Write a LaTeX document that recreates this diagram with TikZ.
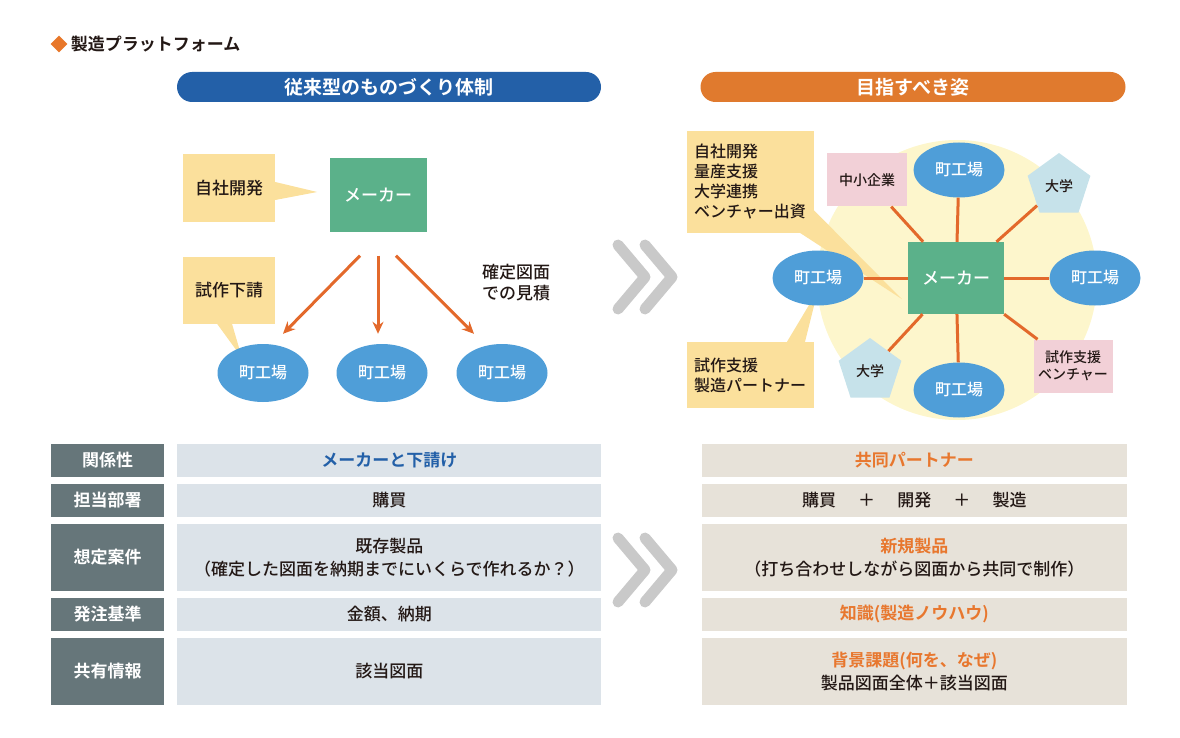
\documentclass[tikz,border=0pt]{standalone}
\usepackage{fontspec}
\setmainfont{Noto Sans CJK JP}[UprightFont=* Medium,BoldFont=* Bold]
\usetikzlibrary{shapes.geometric,arrows.meta,positioning}
\pgfdeclarelayer{back}
\pgfsetlayers{back,main}

\definecolor{ink}{HTML}{231815}
\definecolor{markO}{HTML}{E8772A}
\definecolor{hdB}{HTML}{2360A8}
\definecolor{hdO}{HTML}{E07A2E}
\definecolor{txtO}{HTML}{E8772E}
\definecolor{memoY}{HTML}{FBE09C}
\definecolor{makerG}{HTML}{5BB18A}
\definecolor{shopB}{HTML}{4F9ED8}
\definecolor{linkO}{HTML}{E3692B}
\definecolor{pinkP}{HTML}{F2D0D7}
\definecolor{univB}{HTML}{C6E2EA}
\definecolor{glowY}{HTML}{FDF6CC}
\definecolor{chevG}{HTML}{C9C9C9}
\definecolor{labelG}{HTML}{66767A}
\definecolor{oldC}{HTML}{DCE3E9}
\definecolor{newC}{HTML}{E7E2D9}

\def\sz#1#2{\fontsize{#1pt}{#2pt}\selectfont}
\def\gap{6.5pt}

\begin{document}
\begin{tikzpicture}[x=1pt,y=-1pt,every node/.style={text=ink,inner sep=0pt}]
  \tikzset{heading/.style={rounded corners=15pt,minimum width=424pt,minimum height=30pt,text=white,font=\sz{19}{23}\bfseries},
    memo/.style={fill=memoY,minimum width=92pt,minimum height=67pt,font=\sz{17}{21}},
    makerbox/.style={fill=makerG,minimum width=97pt,minimum height=73pt,text=white,font=\sz{17}{21}},
    shop/.style={ellipse,fill=shopB,minimum width=91pt,minimum height=58pt,text=white,font=\sz{16}{20}},
    partnerbox/.style={fill=pinkP,minimum width=80pt,minimum height=53pt,font=\sz{14}{17},align=center},
    univ/.style={regular polygon,regular polygon sides=5,fill=univB,minimum size=66pt,font=\sz{14}{17}},
    flow/.style={-{Stealth[length=12pt,width=11pt]},draw=linkO,line width=3pt},
    spoke/.style={draw=linkO,line width=3pt},
    chevron/.style={draw=chevG,line width=11pt,line cap=round,line join=round},
    rowlabel/.style={fill=labelG,minimum width=113pt,text=white,font=\sz{17}{21}\bfseries},
    oldcell/.style={fill=oldC,minimum width=424pt,font=\sz{17}{23},align=center},
    newcell/.style={fill=newC,minimum width=425pt,font=\sz{17}{23},align=center}}

  \useasboundingbox (0,0) rectangle (1180,738);

  \node[diamond,fill=markO,minimum width=17pt,minimum height=17pt] (mark) at (59,44) {};
  \node[right=3pt of mark,font=\sz{17}{20}\bfseries] (title) {製造プラットフォーム};

  \node[heading,fill=hdB] (oldHead) at (389,87) {従来型のものづくり体制};
  \node[heading,fill=hdO,minimum width=425pt] (newHead) at (913,87) {目指すべき姿};

  \node[memo] (ownDev) at (229,188) {自社開発};
  \node[makerbox] (maker1) at (378,195) {メーカー};
  \node[memo] (trial) at (229,290) {試作下請};
  \node[shop] (shopA) at (263,373) {町工場};
  \node[shop] (shopB) at (382,373) {町工場};
  \node[shop] (shopC) at (502,373) {町工場};
  \node[font=\sz{17}{21},align=left] (quote) at (516,283) {確定図面\\での見積};

  \draw[flow] ([xshift=-18pt,yshift=-24pt]maker1.south) -- ([xshift=20pt,yshift=10pt]shopA.north);
  \draw[flow] ([yshift=-24pt]maker1.south) -- ([xshift=-4pt,yshift=10pt]shopB.north);
  \draw[flow] ([xshift=18pt,yshift=-24pt]maker1.south) -- ([xshift=-28pt,yshift=10pt]shopC.north);

  \draw[chevron] (618,245) -- (645,277) -- (618,309);
  \draw[chevron] (645,245) -- (672,277) -- (645,309);
  \draw[chevron] (618,538) -- (645,570) -- (618,602);
  \draw[chevron] (645,538) -- (672,570) -- (645,602);

  \node[memo,minimum width=127pt,minimum height=101pt,font=\sz{16}{20},align=left] (devList) at (750,182) {自社開発\\量産支援\\大学連携\\ベンチャー出資};
  \node[memo,minimum width=127pt,minimum height=66pt,font=\sz{16}{20},align=left] (partner) at (750,375) {試作支援\\製造パートナー};

  \node[makerbox,minimum width=96pt,minimum height=72pt] (maker2) at (956,278) {メーカー};
  \node[shop,minimum height=55pt] (shopT) at (959,170) {町工場};
  \node[shop,minimum height=55pt] (shopL) at (818,278) {町工場};
  \node[shop,minimum height=55pt] (shopR) at (1095,278) {町工場};
  \node[shop,minimum height=55pt] (shopD) at (959,390) {町工場};
  \node[partnerbox] (sme) at (867,180) {中小企業};
  \node[partnerbox,minimum width=79pt] (venture) at (1073,366) {試作支援\\ベンチャー};
  \node[univ] (univA) at (1059,186) {大学};
  \node[univ] (univB) at (870,371) {大学};

  \draw[spoke] (maker2) -- (shopT);
  \draw[spoke] (maker2) -- (shopL);
  \draw[spoke] (maker2) -- (shopR);
  \draw[spoke] (maker2) -- (shopD);
  \draw[spoke] (maker2) -- (sme);
  \draw[spoke] (maker2) -- (venture);
  \draw[spoke] (maker2) -- (univA);
  \draw[spoke] (maker2) -- (univB);

  \begin{pgfonlayer}{back}
    \fill[glowY] (957,280) circle (140pt);
    \fill[memoY] ([yshift=6pt]ownDev.east) -- ([xshift=42pt,yshift=-4pt]ownDev.east) -- ([yshift=-12pt]ownDev.east) -- cycle;
    \fill[memoY] ([xshift=-12pt]trial.south) -- ([xshift=-21pt,yshift=15pt]shopA.center) -- ([xshift=3pt]trial.south) -- cycle;
    \fill[memoY] ([yshift=-28pt]devList.east) -- ([xshift=-6pt,yshift=-21pt]maker2.west) -- ([xshift=-14pt]devList.south east) -- cycle;
    \fill[memoY] ([xshift=37pt]partner.north) -- ([yshift=-12pt]shopL.center) -- ([xshift=55pt]partner.north) -- cycle;
  \end{pgfonlayer}

  \node[rowlabel,minimum height=33pt] (relLab) at (107.5,460.5) {関係性};
  \node[rowlabel,minimum height=33pt,below=\gap of relLab] (deptLab) {担当部署};
  \node[rowlabel,minimum height=67pt,below=\gap of deptLab] (caseLab) {想定案件};
  \node[rowlabel,minimum height=33pt,below=\gap of caseLab] (orderLab) {発注基準};
  \node[rowlabel,minimum height=67pt,below=\gap of orderLab] (infoLab) {共有情報};

  \node[oldcell,minimum height=33pt,right=13pt of relLab,text=hdB,font=\sz{17}{23}\bfseries] (relOld) {メーカーと下請け};
  \node[oldcell,minimum height=33pt,right=13pt of deptLab] (deptOld) {購買};
  \node[oldcell,minimum height=67pt,right=13pt of caseLab] (caseOld) {既存製品\\（確定した図面を納期までにいくらで作れるか？）};
  \node[oldcell,minimum height=33pt,right=13pt of orderLab] (orderOld) {金額、納期};
  \node[oldcell,minimum height=67pt,right=13pt of infoLab] (infoOld) {該当図面};

  \node[newcell,minimum height=33pt,right=100pt of relOld,text=txtO,font=\sz{17}{23}\bfseries] (relNew) {共同パートナー};
  \node[newcell,minimum height=33pt,right=100pt of deptOld] (deptNew) {購買\hspace{1.3em}＋\hspace{1.3em}開発\hspace{1.3em}＋\hspace{1.3em}製造};
  \node[newcell,minimum height=67pt,right=100pt of caseOld] (caseNew) {{\color{txtO}\bfseries 新規製品}\\（打ち合わせしながら図面から共同で制作）};
  \node[newcell,minimum height=33pt,right=100pt of orderOld,text=txtO,font=\sz{17}{23}\bfseries] (orderNew) {知識(製造ノウハウ)};
  \node[newcell,minimum height=67pt,right=100pt of infoOld] (infoNew) {{\color{txtO}\bfseries 背景課題(何を、なぜ)}\\製品図面全体＋該当図面};
\end{tikzpicture}
\end{document}
